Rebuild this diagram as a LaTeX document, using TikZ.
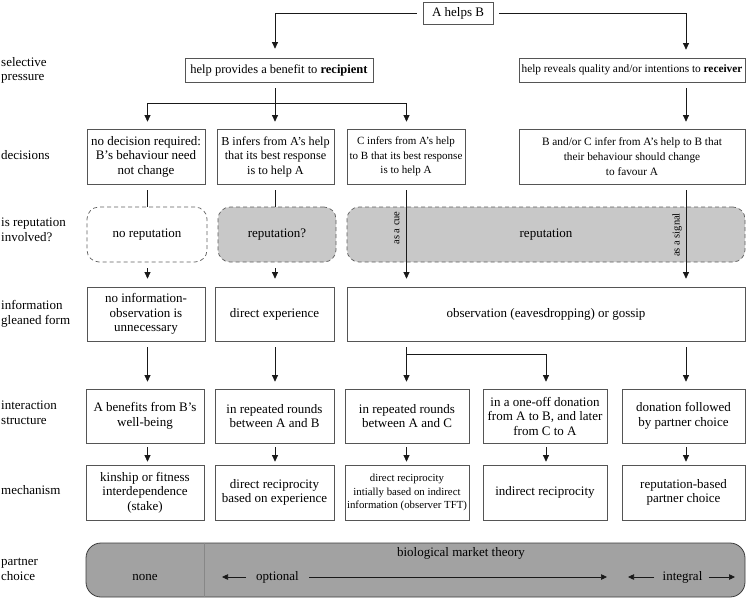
\documentclass[tikz,border=0pt]{standalone}
\usepackage{fontspec}
\setmainfont{Liberation Serif}
\usetikzlibrary{arrows.meta,calc}
\definecolor{boxc}{RGB}{85,85,85}
\definecolor{linec}{RGB}{25,25,25}
\definecolor{repfill}{RGB}{200,200,200}
\definecolor{repdash}{RGB}{95,95,95}
\definecolor{barfill}{RGB}{162,162,162}
\definecolor{barline}{RGB}{60,60,60}
\definecolor{divc}{RGB}{135,135,135}
\newcommand\fsz[2]{\fontsize{#1}{#2}\selectfont}
\tikzset{
  box/.style={draw=boxc, line width=0.7pt, fill=white, align=center, inner sep=1pt, font=\fsz{13}{14.5}},
  repbox/.style={draw=repdash, line width=0.7pt, dash pattern=on 4pt off 3pt, rounded corners=12pt, align=center, inner sep=1pt, font=\fsz{13}{14.5}},
  lab/.style={anchor=west, align=left, inner sep=1pt, font=\fsz{13}{14.5}},
  ln/.style={draw=linec, line width=0.7pt, -{Triangle[length=6.5pt,width=6pt]}, shorten <=6pt, shorten >=7pt},
  lnplain/.style={draw=linec, line width=0.7pt, shorten <=6pt},
  barr/.style={draw=linec, line width=0.7pt, -{Triangle[length=6pt,width=5.5pt]}},
  rot/.style={rotate=90, inner sep=0pt, font=\fsz{10.5}{12}}
}
\begin{document}
\begin{tikzpicture}[x=1pt,y=-1pt]
\useasboundingbox (0,0) rectangle (747,598);
% column coordinates
\coordinate (cA) at (147.5,0);
\coordinate (cB) at (275,0);
\coordinate (cC) at (406.5,0);
\coordinate (cD) at (546,0);
\coordinate (cE) at (686,0);
\coordinate (cDiv) at (204,0);
\coordinate (h1) at (275,103);
\coordinate (h2) at (406.5,354);

% row labels
\node[lab] (l1) at (0,70.5) {selective\\pressure};
\node[lab] (l2) at (0,155) {decisions};
\node[lab] (l3) at (0,230) {is reputation\\involved?};
\node[lab] (l4) at (0,314) {information\\gleaned form};
\node[lab] (l5) at (0,413) {interaction\\structure};
\node[lab] (l6) at (0,490) {mechanism};
\node[lab] (l7) at (0,569.5) {partner\\choice};

% top
\node[box, minimum width=70, minimum height=22] (ahb) at (458,13) {A helps B};
\node[box, minimum width=188, minimum height=24, font=\fsz{12.5}{14}] (sp1) at (279,70) {help provides a benefit to \textbf{recipient}};
\node[box, minimum width=226, minimum height=24, font=\fsz{11.3}{13}] (sp2) at (632,70) {help reveals quality and/or intentions to \textbf{receiver}};

% decisions
\node[box, minimum width=118, minimum height=55] (d1) at (146,156.5) {no decision required:\\B’s behaviour need\\not change};
\node[box, minimum width=117, minimum height=55, font=\fsz{12.2}{14.5}] (d2) at (275.5,156.5) {B infers from A’s help\\that its best response\\is to help A};
\node[box, minimum width=118, minimum height=55, font=\fsz{11}{14.5}] (d3) at (406,156.5) {C infers from A’s help\\to B that its best response\\is to help A};
\node[box, minimum width=226, minimum height=55, font=\fsz{11.3}{15}] (d4) at (632,156.5) {B and/or C infer from A’s help to B that\\their behaviour should change\\to favour A};

% reputation
\node[repbox, minimum width=120, minimum height=55] (r1) at (147,234.5) {no reputation};
\node[repbox, fill=repfill, minimum width=118, minimum height=55] (r2) at (277,234.5) {reputation?};
\node[repbox, fill=repfill, minimum width=398, minimum height=55] (r3) at (546,234.5) {reputation};
\node[rot] (cue) at (397,228) {as a cue};
\node[rot] (sig) at (677,235) {as a signal};

% information
\node[box, minimum width=118, minimum height=54] (i1) at (146,314) {no information-\\observation is\\unnecessary};
\node[box, minimum width=119, minimum height=54] (i2) at (274.5,314) {direct experience};
\node[box, minimum width=398, minimum height=54] (i3) at (546,314) {observation (eavesdropping) or gossip};

% interaction
\node[box, minimum width=118, minimum height=54] (n1) at (145,416) {A benefits from B’s\\well-being};
\node[box, minimum width=119, minimum height=54] (n2) at (274.5,416) {in repeated rounds\\between A and B};
\node[box, minimum width=124, minimum height=54] (n3) at (407,416) {in repeated rounds\\between A and C};
\node[box, minimum width=124, minimum height=54] (n4) at (545,416) {in a one-off donation\\from A to B, and later\\from C to A};
\node[box, minimum width=123, minimum height=54] (n5) at (683.5,416) {donation followed\\by partner choice};

% mechanism
\node[box, minimum width=118, minimum height=55] (m1) at (145,492.5) {kinship or fitness\\interdependence\\(stake)};
\node[box, minimum width=119, minimum height=55] (m2) at (274.5,492.5) {direct reciprocity\\based on experience};
\node[box, minimum width=124, minimum height=55, font=\fsz{10.8}{13.3}] (m3) at (407,492.5) {direct reciprocity\\intially based on indirect\\information (observer TFT)};
\node[box, minimum width=124, minimum height=55] (m4) at (545,492.5) {indirect reciprocity};
\node[box, minimum width=123, minimum height=55] (m5) at (683.5,492.5) {reputation-based\\partner choice};

% partner choice bar
\node[draw=barline, line width=0.8pt, fill=barfill, rounded corners=15pt, minimum width=659, minimum height=54, inner sep=0pt] (pc) at (415.5,570) {};
\draw[draw=divc, line width=0.6pt] (pc.north -| cDiv) -- (pc.south -| cDiv);
\node[font=\fsz{13}{14.5}] (none) at (145,577) {none};
\node[font=\fsz{13}{14.5}] (bmt) at (461,553) {biological market theory};
\node[font=\fsz{13}{14.5}, inner sep=2pt] (opt) at (277.5,577) {optional};
\node[font=\fsz{13}{14.5}, inner sep=2pt] (integ) at (682.5,577) {integral};
\coordinate (oL) at (222,577);
\coordinate (oR) at (607,577);
\coordinate (gL) at (628,577);
\coordinate (gR) at (735,577);
\draw[barr, shorten <=8pt] (opt.west) -- (oL);
\draw[barr, shorten <=8pt] (opt.east) -- (oR);
\draw[barr, shorten <=6pt] (integ.west) -- (gL);
\draw[barr, shorten <=4pt] (integ.east) -- (gR);

% connectors: top
\draw[ln, shorten >=9pt] (ahb.west) -| (sp1.north -| cB);
\draw[ln, shorten >=8pt] (ahb.east) -| (sp2.north -| cE);
\draw[ln] (sp1.south -| cB) -- (d2.north -| cB);
\draw[ln, shorten <=0pt] (h1) -| (d1.north -| cA);
\draw[ln, shorten <=0pt] (h1) -| (d3.north -| cC);
\draw[ln] (sp2.south -| cE) -- (d4.north -| cE);

% decisions -> reputation -> information
\draw[lnplain] (d1.south -| cA) -- (r1.north -| cA);
\draw[lnplain] (d2.south -| cB) -- (r2.north -| cB);
\draw[ln, shorten >=8pt] (r1.south -| cA) -- (i1.north -| cA);
\draw[ln, shorten >=8pt] (r2.south -| cB) -- (i2.north -| cB);
\draw[ln, shorten >=8pt] (d3.south -| cC) -- (i3.north -| cC);
\draw[ln, shorten >=8pt] (d4.south -| cE) -- (i3.north -| cE);

% information -> interaction
\draw[ln] (i1.south -| cA) -- (n1.north -| cA);
\draw[ln] (i2.south -| cB) -- (n2.north -| cB);
\draw[ln] (i3.south -| cC) -- (n3.north -| cC);
\draw[ln, shorten <=0pt] (h2) -| (n4.north -| cD);
\draw[ln] (i3.south -| cE) -- (n5.north -| cE);

% interaction -> mechanism
\draw[ln, shorten <=4pt, shorten >=3pt] (n1.south -| cA) -- (m1.north -| cA);
\draw[ln, shorten <=4pt, shorten >=3pt] (n2.south -| cB) -- (m2.north -| cB);
\draw[ln, shorten <=4pt, shorten >=3pt] (n3.south -| cC) -- (m3.north -| cC);
\draw[ln, shorten <=4pt, shorten >=3pt] (n4.south -| cD) -- (m4.north -| cD);
\draw[ln, shorten <=4pt, shorten >=3pt] (n5.south -| cE) -- (m5.north -| cE);
\end{tikzpicture}
\end{document}
